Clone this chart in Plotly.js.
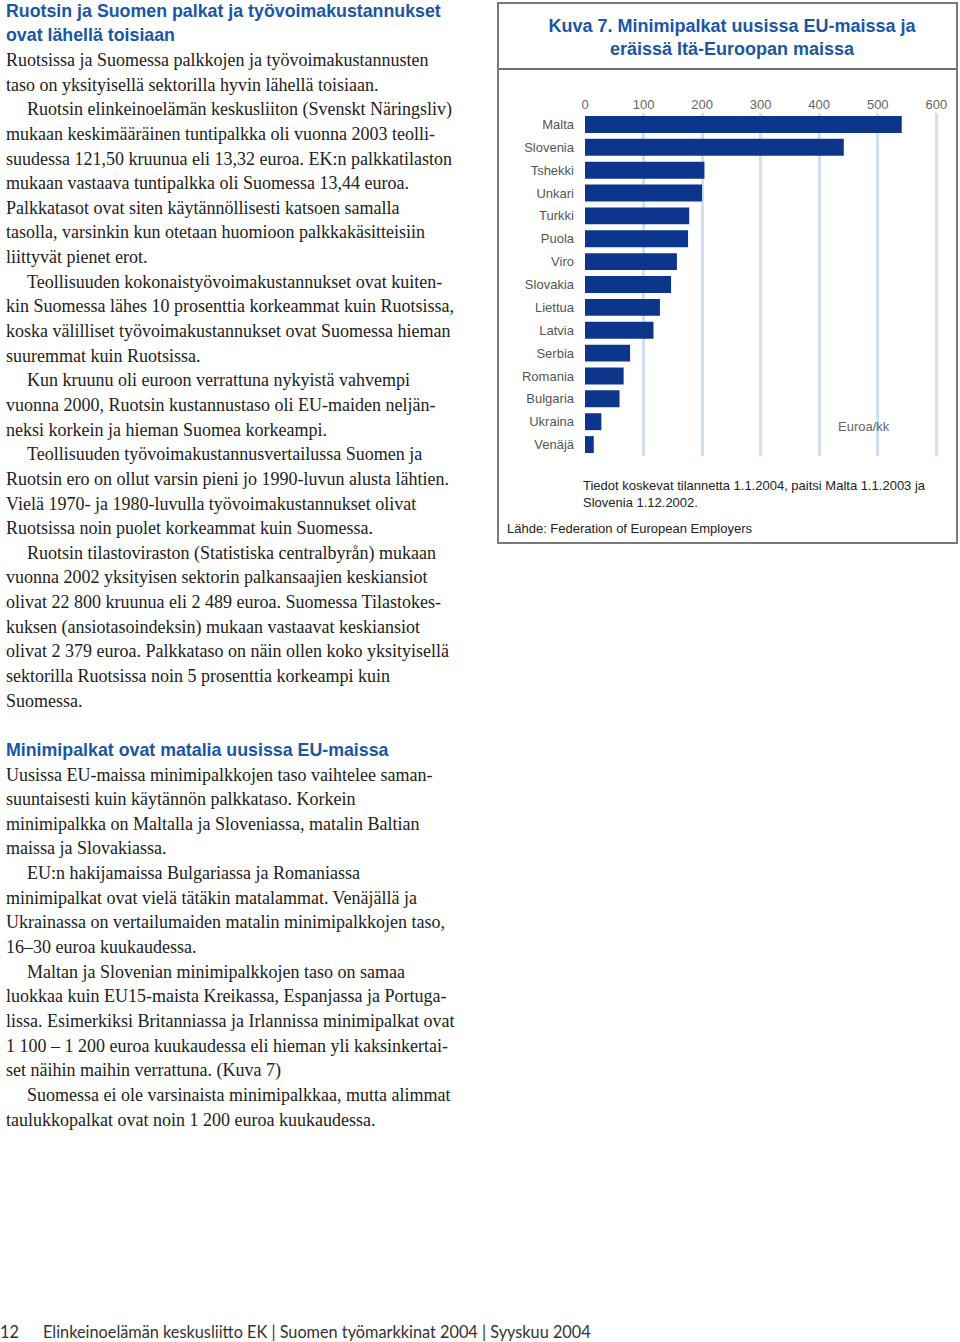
<!DOCTYPE html>
<html>
<head>
<meta charset="utf-8">
<script src="https://cdn.plot.ly/plotly-3.0.1.min.js"></script>
<style>
  html, body { margin:0; padding:0; background:#fff; }
  body { width:960px; height:1342px; position:relative; overflow:hidden; }
  #text { position:absolute; left:6px; top:-1.3px; width:480px; line-height:24.65px;
          font-family:"Liberation Serif","Times New Roman",serif; font-size:18px; color:#222; }
  #text div { white-space:nowrap; height:24.65px; }
  #text .h { font-family:"Liberation Sans",Arial,sans-serif; font-weight:bold; color:#1a56a6; font-size:17.8px; }
  #text .i { padding-left:21px; }
  #box { position:absolute; left:497px; top:2px; width:457px; height:538px; border:2px solid #7a7a7a; }
  #chart { width:457px; height:538px; }
  #footer { position:absolute; top:1322px; left:0; font-family:"Lato","DejaVu Sans",sans-serif; font-size:16.3px; color:#333; white-space:nowrap; }
</style>
</head>
<body>
<div id="text">
  <div class="h">Ruotsin ja Suomen palkat ja työvoimakustannukset</div>
  <div class="h">ovat lähellä toisiaan</div>
  <div>Ruotsissa ja Suomessa palkkojen ja työvoimakustannusten</div>
  <div>taso on yksityisellä sektorilla hyvin lähellä toisiaan.</div>
  <div class="i">Ruotsin elinkeinoelämän keskusliiton (Svenskt Näringsliv)</div>
  <div>mukaan keskimääräinen tuntipalkka oli vuonna 2003 teolli-</div>
  <div>suudessa 121,50 kruunua eli 13,32 euroa. EK:n palkkatilaston</div>
  <div>mukaan vastaava tuntipalkka oli Suomessa 13,44 euroa.</div>
  <div>Palkkatasot ovat siten käytännöllisesti katsoen samalla</div>
  <div>tasolla, varsinkin kun otetaan huomioon palkkakäsitteisiin</div>
  <div>liittyvät pienet erot.</div>
  <div class="i">Teollisuuden kokonaistyövoimakustannukset ovat kuiten-</div>
  <div>kin Suomessa lähes 10 prosenttia korkeammat kuin Ruotsissa,</div>
  <div>koska välilliset työvoimakustannukset ovat Suomessa hieman</div>
  <div>suuremmat kuin Ruotsissa.</div>
  <div class="i">Kun kruunu oli euroon verrattuna nykyistä vahvempi</div>
  <div>vuonna 2000, Ruotsin kustannustaso oli EU-maiden neljän-</div>
  <div>neksi korkein ja hieman Suomea korkeampi.</div>
  <div class="i">Teollisuuden työvoimakustannusvertailussa Suomen ja</div>
  <div>Ruotsin ero on ollut varsin pieni jo 1990-luvun alusta lähtien.</div>
  <div>Vielä 1970- ja 1980-luvulla työvoimakustannukset olivat</div>
  <div>Ruotsissa noin puolet korkeammat kuin Suomessa.</div>
  <div class="i">Ruotsin tilastoviraston (Statistiska centralbyrån) mukaan</div>
  <div>vuonna 2002 yksityisen sektorin palkansaajien keskiansiot</div>
  <div>olivat 22 800 kruunua eli 2 489 euroa. Suomessa Tilastokes-</div>
  <div>kuksen (ansiotasoindeksin) mukaan vastaavat keskiansiot</div>
  <div>olivat 2 379 euroa. Palkkataso on näin ollen koko yksityisellä</div>
  <div>sektorilla Ruotsissa noin 5 prosenttia korkeampi kuin</div>
  <div>Suomessa.</div>
  <div></div>
  <div class="h">Minimipalkat ovat matalia uusissa EU-maissa</div>
  <div>Uusissa EU-maissa minimipalkkojen taso vaihtelee saman-</div>
  <div>suuntaisesti kuin käytännön palkkataso. Korkein</div>
  <div>minimipalkka on Maltalla ja Sloveniassa, matalin Baltian</div>
  <div>maissa ja Slovakiassa.</div>
  <div class="i">EU:n hakijamaissa Bulgariassa ja Romaniassa</div>
  <div>minimipalkat ovat vielä tätäkin matalammat. Venäjällä ja</div>
  <div>Ukrainassa on vertailumaiden matalin minimipalkkojen taso,</div>
  <div>16–30 euroa kuukaudessa.</div>
  <div class="i">Maltan ja Slovenian minimipalkkojen taso on samaa</div>
  <div>luokkaa kuin EU15-maista Kreikassa, Espanjassa ja Portuga-</div>
  <div>lissa. Esimerkiksi Britanniassa ja Irlannissa minimipalkat ovat</div>
  <div>1 100 – 1 200 euroa kuukaudessa eli hieman yli kaksinkertai-</div>
  <div>set näihin maihin verrattuna. (Kuva 7)</div>
  <div class="i">Suomessa ei ole varsinaista minimipalkkaa, mutta alimmat</div>
  <div>taulukkopalkat ovat noin 1 200 euroa kuukaudessa.</div>
</div>
<div id="box"><div id="chart"></div></div>
<div id="footer"><span style="position:absolute;left:0;">12</span><span style="position:absolute;left:43px;">Elinkeinoelämän keskusliitto EK | Suomen työmarkkinat 2004 | Syyskuu 2004</span></div>
<script>
const countries = ["Malta","Slovenia","Tshekki","Unkari","Turkki","Puola","Viro","Slovakia","Liettua","Latvia","Serbia","Romania","Bulgaria","Ukraina","Venäjä"];
const wages = [541, 442, 204, 200, 178, 176, 157, 147, 128, 117, 77, 66, 59, 28, 15];
const tickVals = [0, 100, 200, 300, 400, 500, 600];
const titleText = "Kuva 7. Minimipalkat uusissa EU-maissa ja<br>eräissä Itä-Euroopan maissa";
const unitText = "Euroa/kk";
const noteText = "Tiedot koskevat tilannetta 1.1.2004, paitsi Malta 1.1.2003 ja<br>Slovenia 1.12.2002.";
const sourceText = "Lähde: Federation of European Employers";

const W = 457, H = 538, L = 86, R = 8, T = 109, B = 86;
const pw = W - L - R, ph = H - T - B;

Plotly.newPlot('chart', [{
  type: 'bar', orientation: 'h',
  x: wages, y: countries,
  marker: { color: '#0c368b', line: { width: 0 } },
  hoverinfo: 'x+y'
}], {
  width: W, height: H,
  margin: { l: L, r: R, t: T, b: B },
  paper_bgcolor: '#fff', plot_bgcolor: '#fff',
  bargap: 0.26,
  font: { family: 'Liberation Sans, Arial, sans-serif' },
  title: { text: titleText, x: 0.51, xanchor: 'center', xref: 'container',
           y: 1 - 28 / H, yref: 'container', yanchor: 'middle',
           font: { size: 18, color: '#1a56a6', family: 'Liberation Sans, Arial, sans-serif', weight: 'bold' } },
  xaxis: { side: 'top', range: [0, 620], tickvals: tickVals, ticks: '', showline: false, zeroline: false,
           showgrid: true, gridcolor: '#cfe0f2', gridwidth: 3, ticklabelstandoff: 0,
           tickfont: { size: 13, color: '#666' }, fixedrange: true },
  yaxis: { autorange: 'reversed', categoryorder: 'array', categoryarray: countries,
           ticks: '', showline: false, showgrid: false, zeroline: false,
           tickfont: { size: 13, color: '#555' }, ticklabelstandoff: 10, fixedrange: true },
  shapes: [{ type: 'line', xref: 'paper', yref: 'paper',
             x0: -L / pw - 0.01, x1: 1 + R / pw + 0.01, y0: 1 + (T - 65) / ph, y1: 1 + (T - 65) / ph,
             line: { color: '#6e6e6e', width: 2 } }],
  annotations: [
    { text: unitText, xref: 'x', yref: 'paper', x: 476, y: 30 / ph, xanchor: 'center', yanchor: 'middle',
      showarrow: false, font: { size: 13, color: '#666' } },
    { text: noteText, xref: 'paper', yref: 'paper', x: -4 / pw, y: -20 / ph, xanchor: 'left', yanchor: 'top',
      align: 'left', showarrow: false, font: { size: 13, color: '#222' } },
    { text: sourceText, xref: 'paper', yref: 'paper', x: -(L - 6) / pw, y: -72 / ph, xanchor: 'left', yanchor: 'middle',
      align: 'left', showarrow: false, font: { size: 13, color: '#222' } }
  ]
}, { displayModeBar: false, staticPlot: true });
</script>
</body>
</html>
